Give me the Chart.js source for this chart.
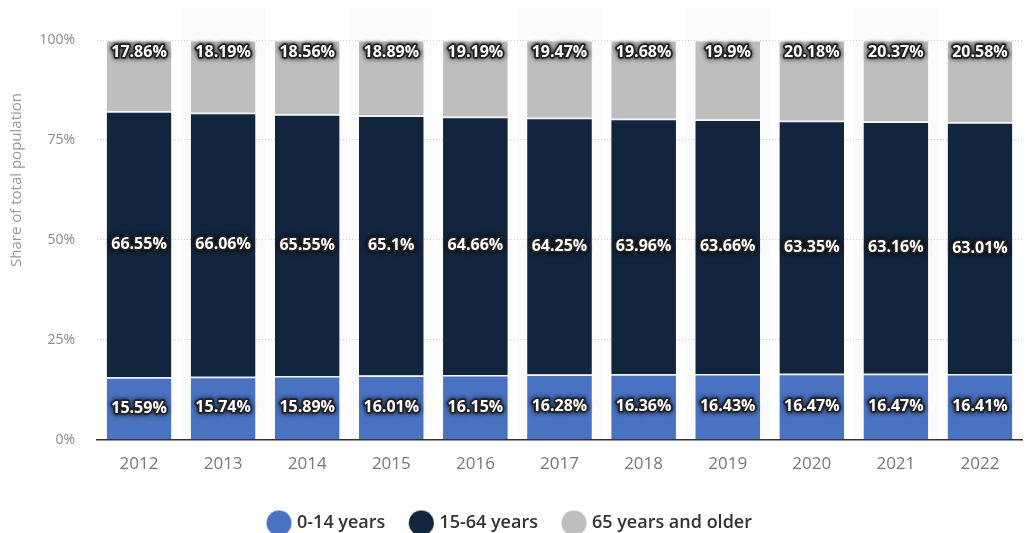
<!DOCTYPE html>
<html>
<head>
<meta charset="utf-8">
<script src="https://cdn.jsdelivr.net/npm/chart.js@4"></script>
<style>
  body { margin: 0; background: #fff; }
  #wrap { width: 1029px; height: 533px; }
</style>
</head>
<body>
<div id="wrap"><canvas id="chart" width="1029" height="533"></canvas></div>
<script>
const years = ['2012', '2013', '2014', '2015', '2016', '2017', '2018', '2019', '2020', '2021', '2022'];
const age0to14 = [15.59, 15.74, 15.89, 16.01, 16.15, 16.28, 16.36, 16.43, 16.47, 16.47, 16.41];
const age15to64 = [66.55, 66.06, 65.55, 65.1, 64.66, 64.25, 63.96, 63.66, 63.35, 63.16, 63.01];
const age65plus = [17.86, 18.19, 18.56, 18.89, 19.19, 19.47, 19.68, 19.9, 20.18, 20.37, 20.58];
const yTicks = [0, 25, 50, 75, 100];
const yTitle = 'Share of total population';

const seriesNames = ['0-14 years', '15-64 years', '65 years and older'];
const seriesColors = ['#4a72c2', '#12253e', '#bebebe'];

// faint band behind every other column
const columnBands = {
  id: 'columnBands',
  beforeDraw(chart) {
    const { ctx, chartArea, scales } = chart;
    const step = scales.x.getPixelForValue(1) - scales.x.getPixelForValue(0);
    ctx.save();
    ctx.fillStyle = '#fbfbfb';
    years.forEach((y, i) => {
      if (i % 2 === 1) {
        const cx = scales.x.getPixelForValue(i);
        ctx.fillRect(cx - step / 2, 8, step, chartArea.bottom - 8);
      }
    });
    ctx.restore();
  }
};

// y title sits above the middle of the axis, so draw it by hand
const sideTitle = {
  id: 'sideTitle',
  afterDraw(chart) {
    const { ctx, chartArea } = chart;
    ctx.save();
    ctx.translate(17, chartArea.top + 140);
    ctx.rotate(-Math.PI / 2);
    ctx.font = '15px "Open Sans", sans-serif';
    ctx.fillStyle = '#999';
    ctx.textAlign = 'center';
    ctx.textBaseline = 'middle';
    ctx.fillText(yTitle, 0, 0);
    ctx.restore();
  }
};

// white labels with dark halo
const barLabels = {
  id: 'barLabels',
  afterDatasetsDraw(chart) {
    const { ctx } = chart;
    ctx.save();
    ctx.font = 'bold 16px "Open Sans", sans-serif';
    ctx.textAlign = 'center';
    ctx.textBaseline = 'middle';
    chart.data.datasets.forEach((ds, di) => {
      const meta = chart.getDatasetMeta(di);
      meta.data.forEach((bar, i) => {
        const txt = ds.data[i] + '%';
        let y = (bar.y + bar.base) / 2;
        if (di === 2) y = bar.y + 12;
        ctx.lineJoin = 'round';
        ctx.shadowColor = 'rgba(0,0,0,0.9)';
        ctx.shadowBlur = 5;
        ctx.strokeStyle = '#222';
        ctx.lineWidth = 3.5;
        ctx.strokeText(txt, bar.x, y);
        ctx.shadowBlur = 0;
        ctx.fillStyle = '#fff';
        ctx.fillText(txt, bar.x, y);
      });
    });
    ctx.restore();
  }
};

const makeSet = (i, data) => ({
  label: seriesNames[i],
  data: data,
  backgroundColor: seriesColors[i],
  borderColor: '#f4f4f4',
  borderWidth: { top: 1.5, bottom: 0, left: 0, right: 0 },
  borderSkipped: false,
  categoryPercentage: 1,
  barPercentage: 0.77
});

new Chart(document.getElementById('chart'), {
  type: 'bar',
  data: {
    labels: years,
    datasets: [makeSet(0, age0to14), makeSet(1, age15to64), makeSet(2, age65plus)]
  },
  options: {
    responsive: false,
    animation: false,
    layout: { padding: { top: 40, right: 7, left: 0, bottom: -9 } },
    plugins: {
      legend: {
        position: 'bottom',
        labels: {
          usePointStyle: true,
          pointStyle: 'circle',
          boxWidth: 18,
          boxHeight: 18,
          padding: 27,
          color: '#333',
          font: { family: '"Open Sans", sans-serif', size: 18, weight: '600' }
        }
      },
      tooltip: { enabled: false }
    },
    scales: {
      x: {
        stacked: true,
        grid: { display: false },
        border: { color: '#333', width: 1.5 },
        afterFit(scale) { scale.height += 7; },
        ticks: { color: '#777', padding: 6, font: { family: '"Open Sans", sans-serif', size: 17 } }
      },
      y: {
        stacked: true,
        min: 0,
        max: 100,
        afterBuildTicks(scale) { scale.ticks = yTicks.map(v => ({ value: v })); },
        afterFit(scale) { scale.width = 97; },
        grid: { color: '#cfcfcf', borderDash: [1, 2], drawTicks: false, lineWidth: 1 },
        border: { display: false, dash: [1, 2] },
        ticks: {
          color: '#888',
          padding: 22,
          font: { family: '"Open Sans", sans-serif', size: 14 },
          callback: v => v + '%'
        }
      }
    }
  },
  plugins: [columnBands, barLabels, sideTitle]
});
</script>
</body>
</html>
